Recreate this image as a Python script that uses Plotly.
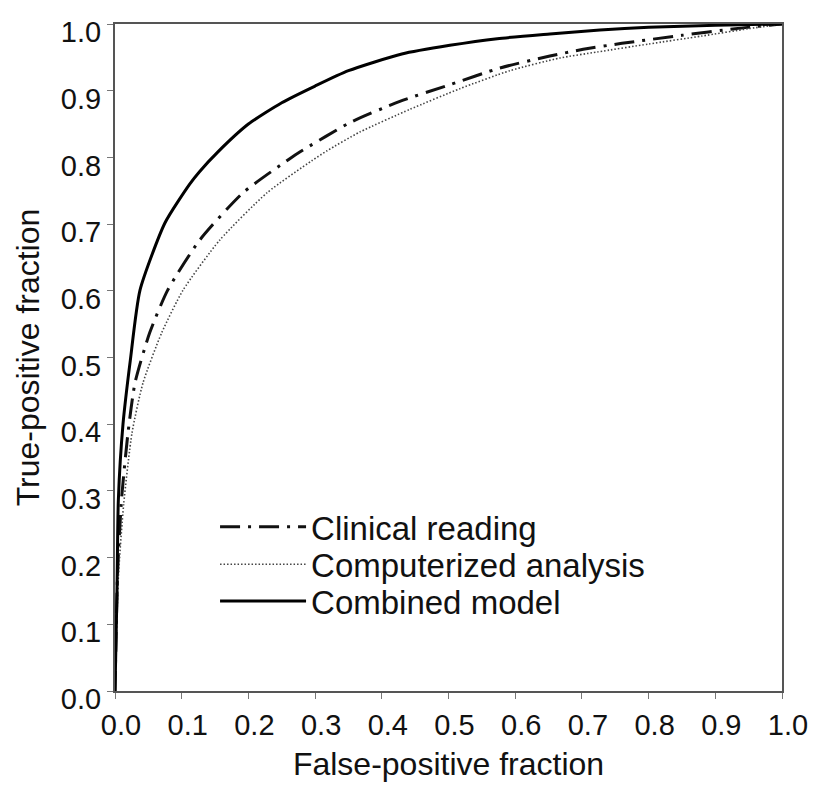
import plotly.graph_objects as go

# Combined model (solid)
fpf_combined = [0.0, 0.003, 0.005, 0.012, 0.023, 0.0375, 0.075, 0.112, 0.127, 0.154, 0.20, 0.25, 0.30, 0.35, 0.43, 0.502, 0.573, 0.652, 0.727, 0.80, 0.90, 1.0]
tpf_combined = [0.0, 0.15, 0.286, 0.400, 0.496, 0.601, 0.702, 0.760, 0.779, 0.808, 0.850, 0.882, 0.907, 0.930, 0.955, 0.968, 0.978, 0.985, 0.991, 0.995, 0.998, 1.0]

# Clinical reading (dash-dot)
fpf_clinical = [0.0, 0.004, 0.010, 0.0195, 0.030, 0.052, 0.079, 0.127, 0.192, 0.262, 0.277, 0.352, 0.427, 0.502, 0.577, 0.652, 0.702, 0.76, 0.85, 0.93, 1.0]
tpf_clinical = [0.0, 0.18, 0.29, 0.387, 0.462, 0.537, 0.601, 0.676, 0.747, 0.798, 0.808, 0.852, 0.884, 0.909, 0.934, 0.952, 0.962, 0.971, 0.983, 0.993, 1.0]

# Computerized analysis (dotted)
fpf_computer = [0.0, 0.005, 0.013, 0.0255, 0.042, 0.070, 0.102, 0.157, 0.228, 0.295, 0.318, 0.367, 0.442, 0.517, 0.592, 0.667, 0.723, 0.80, 0.88, 0.95, 1.0]
tpf_computer = [0.0, 0.17, 0.28, 0.387, 0.462, 0.537, 0.601, 0.676, 0.747, 0.795, 0.810, 0.838, 0.872, 0.903, 0.930, 0.949, 0.958, 0.970, 0.982, 0.993, 1.0]

tick_vals = [0.0, 0.1, 0.2, 0.3, 0.4, 0.5, 0.6, 0.7, 0.8, 0.9, 1.0]
tick_text = ["0.0", "0.1", "0.2", "0.3", "0.4", "0.5", "0.6", "0.7", "0.8", "0.9", "1.0"]

FONT = "Liberation Sans, Arial, sans-serif"

fig = go.Figure()
fig.add_trace(go.Scatter(x=fpf_clinical, y=tpf_clinical, mode="lines", name="Clinical reading", legend="legend",
                         line=dict(color="#111", width=3, dash="20px,8px,3px,8px", shape="spline", smoothing=0.6)))
fig.add_trace(go.Scatter(x=fpf_computer, y=tpf_computer, mode="lines", name="Computerized analysis", legend="legend2",
                         line=dict(color="#444", width=1.6, dash="1.5px,2px", shape="spline", smoothing=0.6)))
fig.add_trace(go.Scatter(x=fpf_combined, y=tpf_combined, mode="lines", name="Combined model", legend="legend3",
                         line=dict(color="#000", width=3, shape="spline", smoothing=0.6)))

axis_common = dict(
    showgrid=False, zeroline=False, showline=True, mirror=True, automargin=False,
    linecolor="#555", linewidth=2, ticks="outside", ticklen=6, tickwidth=1, tickcolor="#777",
    tickvals=tick_vals, ticktext=tick_text,
    tickfont=dict(family=FONT, size=29, color="#111"),
)

legend_common = dict(xanchor="left", yanchor="middle", bgcolor="rgba(0,0,0,0)",
                     font=dict(family=FONT, size=33, color="#111"), itemwidth=86)

fig.update_layout(
    width=801, height=774,
    margin=dict(l=107, r=27, t=16, b=91, autoexpand=False),
    paper_bgcolor="white", plot_bgcolor="white",
    font=dict(family=FONT, color="#111"),
    xaxis=dict(range=[0, 1.0], ticklabelshift=6, ticklabelstandoff=1,
               title=dict(text="False-positive fraction", font=dict(family=FONT, size=32, color="#111"), standoff=18),
               **axis_common),
    yaxis=dict(range=[0, 1.0], ticklabelshift=8, ticklabeloverflow="allow",
               title=dict(text="True-positive fraction", font=dict(family=FONT, size=32, color="#111"), standoff=12),
               **axis_common),
    legend=dict(x=0.150, y=0.246, **legend_common),
    legend2=dict(x=0.150, y=0.190, **legend_common),
    legend3=dict(x=0.150, y=0.135, **legend_common),
    showlegend=True,
)

fig.write_html("out.html")
